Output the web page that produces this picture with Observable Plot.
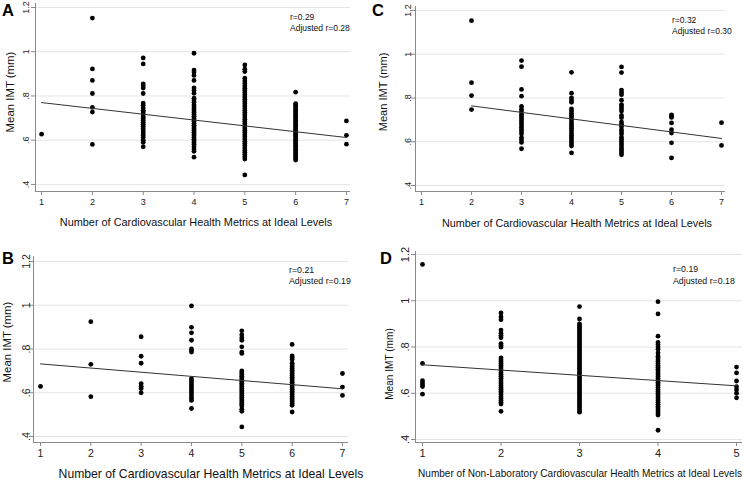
<!DOCTYPE html>
<html><head><meta charset="utf-8">
<script src="https://cdn.jsdelivr.net/npm/d3@7"></script>
<script src="https://cdn.jsdelivr.net/npm/@observablehq/plot@0.6"></script>
<style>
body{margin:0;background:#fff;}
#root{position:relative;width:743px;height:482px;overflow:hidden;font-family:"Liberation Sans",Arial,sans-serif;}
.panel{position:absolute;}
.lbl{position:absolute;white-space:nowrap;color:#111;line-height:1;}
</style></head><body><div id="root"></div>
<script>
// ---- data ----
const yTicks = [0.4, 0.6, 0.8, 1, 1.2];
const yTickLabels = [".4", ".6", ".8", "1", "1.2"];
const xTicks7 = [1, 2, 3, 4, 5, 6, 7];
const xTicks5 = [1, 2, 3, 4, 5];
const xTitleAll = "Number of Cardiovascular Health Metrics at Ideal Levels";
const xTitleNonLab = "Number of Non-Laboratory Cardiovascular Health Metrics at Ideal Levels";
const yTitle = "Mean IMT (mm)";

// Panel A: all participants, 7 metrics
const imtA1 = [0.627];
const imtA2 = [1.152, 0.922, 0.870, 0.811, 0.748, 0.727, 0.581];
const imtA3 = [0.972, 0.945, 0.855, 0.846, 0.836, 0.811, 0.768, 0.758, 0.745, 0.735, 0.727, 0.718, 0.706, 0.698, 0.690, 0.680, 0.672, 0.663, 0.652, 0.642, 0.632, 0.622, 0.612, 0.600, 0.590, 0.570];
const imtA4 = [0.993, 0.917, 0.908, 0.893, 0.870, 0.836, 0.825, 0.812, 0.790, 0.782, 0.772, 0.760, 0.750, 0.742, 0.733, 0.725, 0.716, 0.708, 0.700, 0.692, 0.684, 0.676, 0.668, 0.660, 0.652, 0.644, 0.636, 0.628, 0.620, 0.612, 0.604, 0.596, 0.588, 0.580, 0.570, 0.560, 0.550, 0.523];
const imtA5 = [0.940, 0.921, 0.910, 0.880, 0.868, 0.856, 0.845, 0.835, 0.825, 0.815, 0.805, 0.795, 0.785, 0.775, 0.765, 0.755, 0.745, 0.735, 0.725, 0.715, 0.705, 0.695, 0.685, 0.675, 0.665, 0.655, 0.645, 0.635, 0.625, 0.615, 0.605, 0.595, 0.585, 0.575, 0.565, 0.555, 0.545, 0.535, 0.525, 0.515, 0.443];
const imtA6 = [0.817, 0.765, 0.758, 0.750, 0.742, 0.735, 0.727, 0.720, 0.712, 0.705, 0.697, 0.690, 0.682, 0.675, 0.667, 0.660, 0.652, 0.645, 0.637, 0.630, 0.622, 0.615, 0.607, 0.600, 0.592, 0.585, 0.577, 0.570, 0.562, 0.555, 0.547, 0.540, 0.532, 0.525, 0.517, 0.510];
const imtA7 = [0.687, 0.622, 0.582];
const fitA = [{x: 1, y: 0.770}, {x: 7, y: 0.612}];

// Panel B
const imtB1 = [0.629];
const imtB2 = [0.925, 0.730, 0.582];
const imtB3 = [0.856, 0.767, 0.735, 0.642, 0.630, 0.620, 0.600];
const imtB4 = [0.997, 0.899, 0.874, 0.840, 0.800, 0.792, 0.786, 0.665, 0.655, 0.645, 0.635, 0.625, 0.615, 0.605, 0.595, 0.585, 0.575, 0.565, 0.528];
const imtB5 = [0.883, 0.865, 0.852, 0.840, 0.810, 0.786, 0.780, 0.700, 0.692, 0.684, 0.676, 0.668, 0.660, 0.652, 0.644, 0.636, 0.628, 0.620, 0.612, 0.604, 0.596, 0.588, 0.580, 0.572, 0.564, 0.556, 0.548, 0.540, 0.525, 0.515, 0.444];
const imtB6 = [0.821, 0.768, 0.760, 0.752, 0.735, 0.727, 0.719, 0.711, 0.703, 0.695, 0.687, 0.679, 0.671, 0.663, 0.655, 0.647, 0.639, 0.631, 0.623, 0.615, 0.607, 0.599, 0.591, 0.583, 0.575, 0.567, 0.559, 0.551, 0.543, 0.512];
const imtB7 = [0.688, 0.626, 0.588];
const fitB = [{x: 1, y: 0.732}, {x: 7, y: 0.618}];

// Panel C
const imtC2 = [1.153, 0.870, 0.811, 0.747];
const imtC3 = [0.971, 0.943, 0.839, 0.808, 0.761, 0.748, 0.737, 0.726, 0.716, 0.706, 0.696, 0.686, 0.676, 0.666, 0.656, 0.646, 0.635, 0.618, 0.608, 0.597, 0.568];
const imtC4 = [0.917, 0.822, 0.800, 0.790, 0.780, 0.750, 0.740, 0.730, 0.720, 0.710, 0.700, 0.690, 0.680, 0.670, 0.660, 0.650, 0.640, 0.630, 0.620, 0.610, 0.600, 0.590, 0.580, 0.549];
const imtC5 = [0.942, 0.916, 0.836, 0.825, 0.815, 0.790, 0.770, 0.760, 0.750, 0.740, 0.720, 0.710, 0.690, 0.680, 0.670, 0.655, 0.645, 0.635, 0.620, 0.610, 0.600, 0.590, 0.580, 0.570, 0.560, 0.550, 0.540];
const imtC6 = [0.723, 0.717, 0.711, 0.686, 0.655, 0.640, 0.595, 0.526];
const imtC7 = [0.687, 0.583];
const fitC = [{x: 2, y: 0.764}, {x: 7, y: 0.615}];

// Panel D: non-laboratory metrics, 5 levels
const imtD1 = [1.157, 0.729, 0.655, 0.645, 0.637, 0.629, 0.596];
const imtD2 = [0.947, 0.930, 0.918, 0.873, 0.860, 0.850, 0.840, 0.815, 0.808, 0.800, 0.753, 0.745, 0.737, 0.729, 0.721, 0.713, 0.705, 0.697, 0.689, 0.681, 0.673, 0.665, 0.657, 0.649, 0.641, 0.633, 0.625, 0.617, 0.609, 0.601, 0.593, 0.585, 0.577, 0.569, 0.561, 0.553, 0.522];
const imtD3 = [0.975, 0.921, 0.900, 0.892, 0.884, 0.876, 0.868, 0.860, 0.852, 0.844, 0.836, 0.828, 0.820, 0.812, 0.804, 0.796, 0.788, 0.780, 0.772, 0.764, 0.756, 0.748, 0.740, 0.732, 0.724, 0.716, 0.708, 0.700, 0.692, 0.684, 0.676, 0.668, 0.660, 0.652, 0.644, 0.636, 0.628, 0.620, 0.612, 0.604, 0.596, 0.588, 0.580, 0.572, 0.564, 0.556, 0.548, 0.540, 0.532, 0.524, 0.518];
const imtD4 = [0.996, 0.943, 0.847, 0.820, 0.810, 0.800, 0.790, 0.774, 0.760, 0.752, 0.744, 0.736, 0.728, 0.720, 0.712, 0.704, 0.696, 0.688, 0.680, 0.672, 0.664, 0.656, 0.648, 0.640, 0.632, 0.624, 0.616, 0.608, 0.600, 0.592, 0.584, 0.576, 0.568, 0.560, 0.552, 0.544, 0.536, 0.528, 0.520, 0.512, 0.506, 0.440];
const imtD5 = [0.713, 0.688, 0.653, 0.628, 0.615, 0.600, 0.580];
const fitD = [{x: 1, y: 0.723}, {x: 5, y: 0.632}];

const toPoints = (cols) => cols.flatMap(([x, vals]) => vals.map(y => ({x, y})));

const panels = [
  {id: "A", left: 0, top: 0, width: 370, height: 240,
   ml: 35, mr: 20, mt: 3, mb: 49, xd: [0.88, 7.08], yd: [0.368, 1.218],
   xTicks: xTicks7, pts: toPoints([[1, imtA1], [2, imtA2], [3, imtA3], [4, imtA4], [5, imtA5], [6, imtA6], [7, imtA7]]), fit: fitA,
   tickFs: 9, yPad: 3, r: ["r=0.29", "Adjusted r=0.28"],
   letter: {x: 2, base: 17}, rPos: {x: 290, b1: 21, b2: 32}, rFs: 8.5,
   xTitle: xTitleAll, xt: {cx: 196, base: 227, fs: 10.9},
   yt: {cx: 11, cy: 92, fs: 11.4}},
  {id: "C", left: 370, top: 0, width: 373, height: 240,
   ml: 45, mr: 18, mt: 6, mb: 49, xd: [0.88, 7.08], yd: [0.3726, 1.218],
   xTicks: xTicks7, pts: toPoints([[2, imtC2], [3, imtC3], [4, imtC4], [5, imtC5], [6, imtC6], [7, imtC7]]), fit: fitC,
   tickFs: 9, yPad: 1, r: ["r=0.32", "Adjusted r=0.30"],
   letter: {x: 2, base: 17}, rPos: {x: 302, b1: 24, b2: 35}, rFs: 8.5,
   xTitle: xTitleAll, xt: {cx: 207, base: 228, fs: 10.8},
   yt: {cx: 14, cy: 92, fs: 11.1}},
  {id: "B", left: 0, top: 240, width: 370, height: 242,
   ml: 33, mr: 22, mt: 16, mb: 40, xd: [0.861, 7.12], yd: [0.3726, 1.223],
   xTicks: xTicks7, pts: toPoints([[1, imtB1], [2, imtB2], [3, imtB3], [4, imtB4], [5, imtB5], [6, imtB6], [7, imtB7]]), fit: fitB,
   tickFs: 10.5, yPad: 0, r: ["r=0.21", "Adjusted r=0.19"],
   letter: {x: 2, base: 25}, rPos: {x: 289, b1: 34, b2: 45}, rFs: 8.8,
   xTitle: xTitleAll, xt: {cx: 211, base: 239, fs: 12.2},
   yt: {cx: 8, cy: 102, fs: 11.4}},
  {id: "D", left: 370, top: 240, width: 373, height: 242,
   ml: 45, mr: 1, mt: 11, mb: 40, xd: [0.911, 5.076], yd: [0.387, 1.213],
   xTicks: xTicks5, pts: toPoints([[1, imtD1], [2, imtD2], [3, imtD3], [4, imtD4], [5, imtD5]]), fit: fitD,
   tickFs: 11, yPad: 3, r: ["r=0.19", "Adjusted r=0.18"],
   letter: {x: 10, base: 25}, rPos: {x: 303, b1: 33, b2: 45}, rFs: 8.8,
   xTitle: xTitleNonLab, xt: {cx: 210, base: 238, fs: 10.05},
   yt: {cx: 20, cy: 124, fs: 10.1}}
];

const root = document.getElementById("root");
const axisGrey = "#8a8a8a";

for (const p of panels) {
  const div = document.createElement("div");
  div.className = "panel";
  Object.assign(div.style, {left: p.left + "px", top: p.top + "px", width: p.width + "px", height: p.height + "px"});
  const chart = Plot.plot({
    width: p.width, height: p.height,
    marginLeft: p.ml, marginRight: p.mr, marginTop: p.mt, marginBottom: p.mb,
    x: {domain: p.xd, label: null},
    y: {domain: p.yd, label: null},
    style: {background: "transparent", fontFamily: "'Liberation Sans', Arial, sans-serif", overflow: "visible"},
    marks: [
      Plot.gridY(yTicks, {stroke: "#e4e4e4", strokeOpacity: 1, strokeWidth: 1}),
      Plot.ruleX([p.xd[0]], {stroke: axisGrey}),
      Plot.ruleY([p.yd[0]], {stroke: axisGrey}),
      Plot.axisX(p.xTicks, {tickSize: 4, tickPadding: 3, fontSize: p.tickFs, stroke: axisGrey, fill: "#222", label: null}),
      Plot.axisY(yTicks, {tickSize: 4, tickPadding: p.yPad, tickRotate: -90, fontSize: p.tickFs,
        tickFormat: d => yTickLabels[yTicks.indexOf(d)], stroke: axisGrey, fill: "#222", label: null}),
      Plot.dot(p.pts, {x: "x", y: "y", r: 2.4, fill: "#000", stroke: "none"}),
      Plot.line(p.fit, {x: "x", y: "y", stroke: "#333", strokeWidth: 1})
    ]
  });
  div.appendChild(chart);

  const addLbl = (text, x, base, fs, extra = {}) => {
    const s = document.createElement("div");
    s.className = "lbl";
    s.textContent = text;
    Object.assign(s.style, {left: x + "px", top: (base - 0.905 * fs) + "px", fontSize: fs + "px"}, extra);
    div.appendChild(s);
    return s;
  };
  addLbl(p.id, p.letter.x, p.letter.base, 16.5, {fontWeight: "bold", color: "#000"});
  addLbl(p.r[0], p.rPos.x, p.rPos.b1, p.rFs);
  addLbl(p.r[1], p.rPos.x, p.rPos.b2, p.rFs);
  const xt = addLbl(p.xTitle, 0, p.xt.base, p.xt.fs);
  xt.style.left = p.xt.cx + "px";
  xt.style.transform = "translateX(-50%)";
  const yt = document.createElement("div");
  yt.className = "lbl";
  yt.textContent = yTitle;
  Object.assign(yt.style, {left: p.yt.cx + "px", top: p.yt.cy + "px", fontSize: p.yt.fs + "px",
    transform: "translate(-50%, -50%) rotate(-90deg)"});
  div.appendChild(yt);
  root.appendChild(div);
}
</script>
</body></html>
